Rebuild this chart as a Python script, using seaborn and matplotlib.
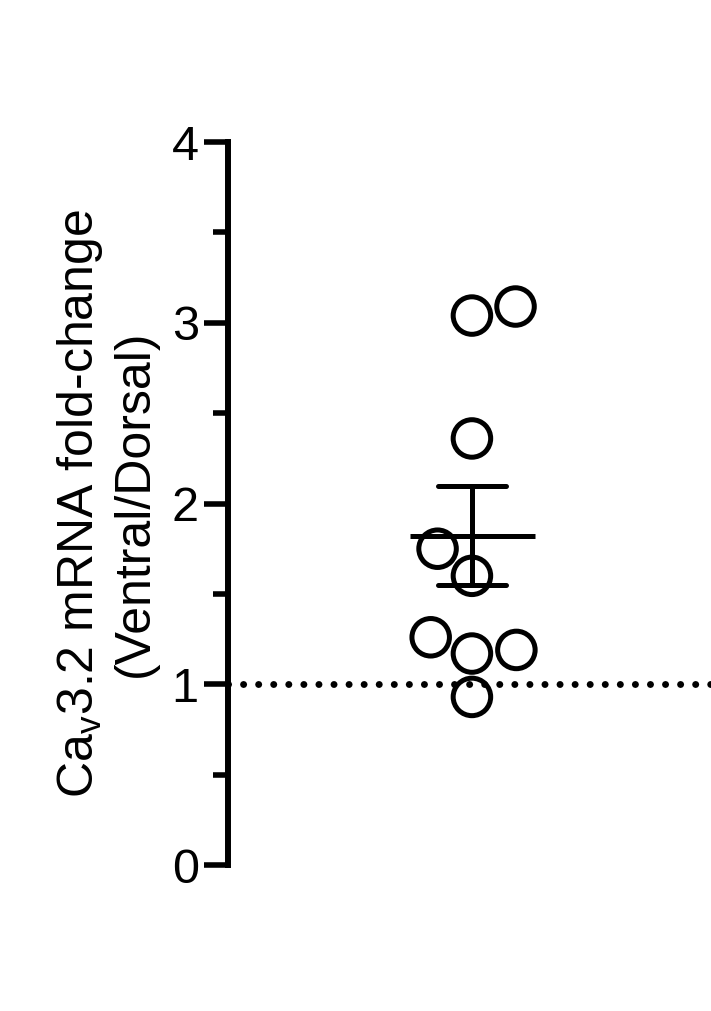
import warnings
warnings.filterwarnings("ignore")
import numpy as np
import pandas as pd
import matplotlib
matplotlib.use("Agg")
import matplotlib.pyplot as plt
from matplotlib.ticker import MultipleLocator
import seaborn as sns

# values (Ventral/Dorsal fold-change, one group)
fold_change = [3.04, 3.09, 2.36, 1.75, 1.60, 1.26, 1.17, 1.19, 0.93]
group = ["Ventral/Dorsal"] * len(fold_change)
y_ticks = [0, 1, 2, 3, 4]
y_label = "Ca$_{v}$3.2 mRNA fold-change\n(Ventral/Dorsal)"

df = pd.DataFrame({"group": group, "fold": fold_change})

sns.set_style("white")
plt.rcParams["font.family"] = ["Liberation Sans", "DejaVu Sans"]
plt.rcParams["mathtext.fontset"] = "custom"
plt.rcParams["mathtext.rm"] = "Liberation Sans"
plt.rcParams["mathtext.default"] = "regular"
plt.rcParams["text.color"] = "black"
plt.rcParams["axes.labelcolor"] = "black"
plt.rcParams["ytick.color"] = "black"

fig = plt.figure(figsize=(7.11, 10.11), dpi=100)
ax = fig.add_axes([0.3207, 0.1444, 0.6793, 0.7151])

ax.axhline(1, color="black", lw=5, linestyle=(0, (0.01, 2.16)),
           dash_capstyle="round", zorder=0, clip_on=False)

sns.swarmplot(data=df, x="group", y="fold", ax=ax, size=27, color="black")
pts = ax.collections[0]
pts.set_facecolor("none")
pts.set_edgecolor("black")
pts.set_linewidth(3.6)
pts.set_clip_on(False)

sns.pointplot(data=df, x="group", y="fold", ax=ax, errorbar="se",
              capsize=0.28, color="black", marker="_", markersize=90,
              markeredgewidth=3.6, linestyle="none",
              err_kws={"linewidth": 3.6})

ax.set_xlim(-1.01, 0.99)
ax.set_ylim(0, 4)
ax.set_yticks(y_ticks)
ax.yaxis.set_minor_locator(MultipleLocator(0.5))
ax.set_xticks([])
ax.set_xlabel("")
for s in ["top", "right", "bottom"]:
    ax.spines[s].set_visible(False)
ax.spines["left"].set_linewidth(4.3)
ax.spines["left"].set_color("black")
ax.tick_params(axis="y", which="major", length=17, width=4, labelsize=35,
               pad=4, colors="black", left=True)
ax.tick_params(axis="y", which="minor", length=11, width=4, colors="black",
               left=True)
ax.set_ylabel(y_label, fontsize=36, labelpad=10, linespacing=1.2,
              color="black")

fig.savefig("out.png", dpi=100)
